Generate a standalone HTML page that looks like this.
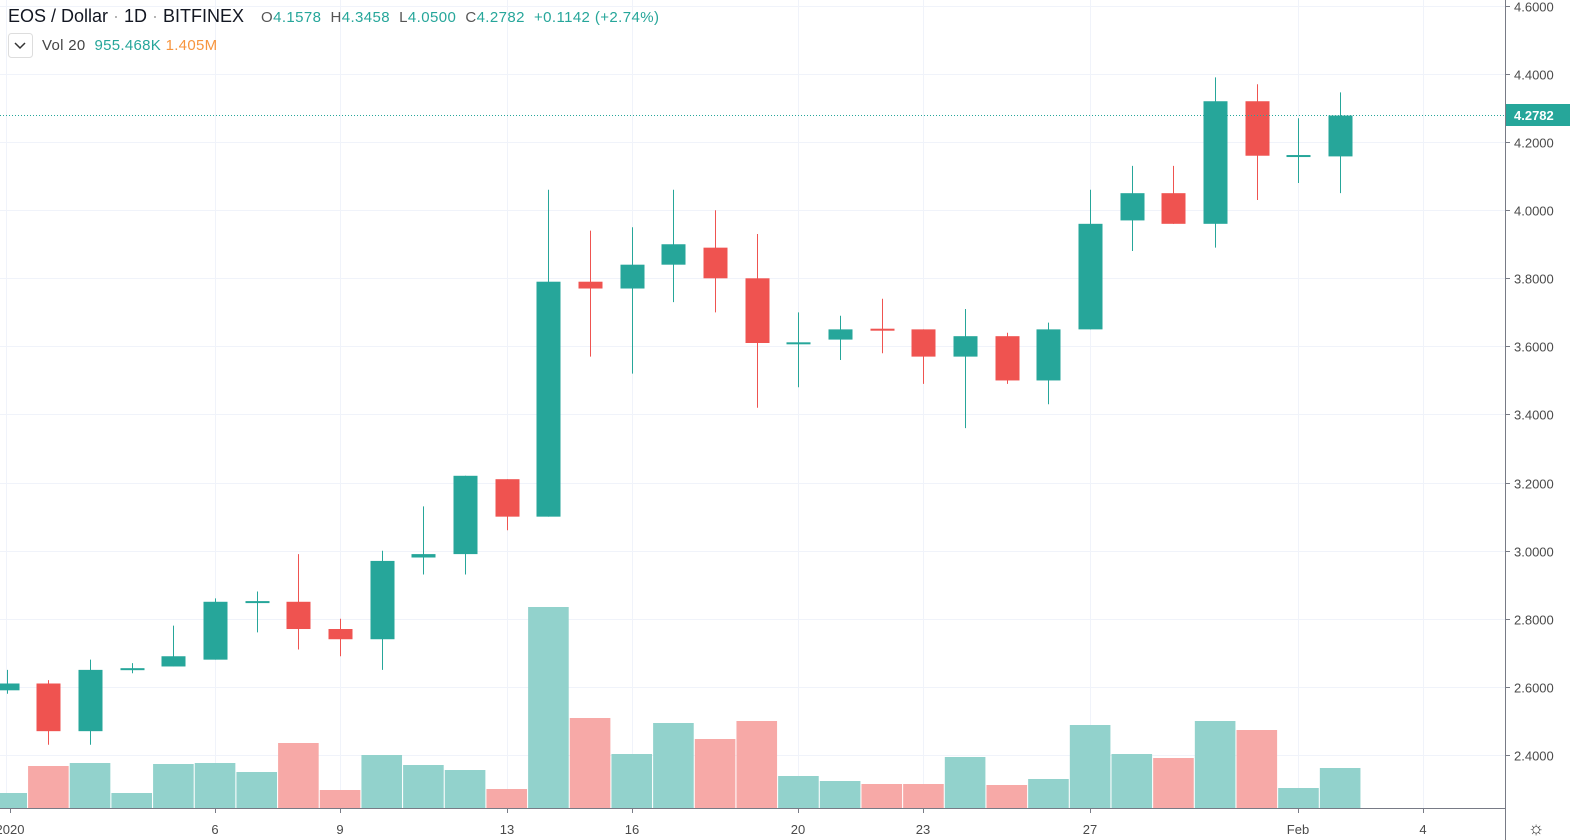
<!DOCTYPE html>
<html><head><meta charset="utf-8"><style>
html,body{margin:0;padding:0;background:#fff;}
svg{display:block;font-family:"Liberation Sans",sans-serif;}
</style></head><body>
<svg id="c" width="1570" height="840" xmlns="http://www.w3.org/2000/svg"></svg>
<script>
const S=document.getElementById('c');let h='';
const Y=p=>755-(p-2.4)*340.5;
const X=i=>6.7+i*41.67;
const G='#26a69a',R='#ef5350',GV='#92d2cc',RV='#f7a9a7';
for(let p=2.4;p<=4.61;p+=0.2){const y=Math.round(Y(p))+0.5;h+=`<line x1="0" x2="1505" y1="${y}" y2="${y}" stroke="#f0f3fa" stroke-width="1"/>`;}
const vx=[6,215,340,507,632,798,923,1090,1298,1423];
vx.forEach(x=>h+=`<line x1="${x+0.5}" x2="${x+0.5}" y1="0" y2="808" stroke="#f0f3fa"/>`);
const D=[[2.59,2.61,2.65,2.58],[2.61,2.47,2.62,2.43],[2.47,2.65,2.68,2.43],[2.65,2.655,2.67,2.64],[2.66,2.69,2.78,2.66],[2.68,2.85,2.86,2.68],[2.85,2.852,2.88,2.76],[2.85,2.77,2.99,2.71],[2.77,2.74,2.80,2.69],[2.74,2.97,3.00,2.65],[2.98,2.99,3.13,2.93],[2.99,3.22,3.22,2.93],[3.21,3.10,3.21,3.06],[3.10,3.79,4.06,3.10],[3.79,3.77,3.94,3.57],[3.77,3.84,3.95,3.52],[3.84,3.90,4.06,3.73],[3.89,3.80,4.00,3.70],[3.80,3.61,3.93,3.42],[3.61,3.612,3.70,3.48],[3.62,3.65,3.69,3.56],[3.652,3.65,3.74,3.58],[3.65,3.57,3.65,3.49],[3.57,3.63,3.71,3.36],[3.63,3.50,3.64,3.49],[3.50,3.65,3.67,3.43],[3.65,3.96,4.06,3.65],[3.97,4.05,4.13,3.88],[4.05,3.96,4.13,3.96],[3.96,4.32,4.39,3.89],[4.32,4.16,4.37,4.03],[4.16,4.162,4.27,4.08],[4.158,4.278,4.346,4.05]];
const V=[793,766,763,793,764,763,772,743,790,755,765,770,789,607,718,754,723,739,721,776,781,784,784,757,785,779,725,754,758,721,730,788,768];
V.forEach((t,i)=>{const up=D[i][1]>=D[i][0];const x=X(i);h+=`<rect x="${x-20.3}" y="${t}" width="40.6" height="${808-t}" fill="${up?GV:RV}"/>`;});
D.forEach((d,i)=>{const [o,c,hi,lo]=d;const up=c>=o;const col=up?G:R;const x=Math.round(X(i));
h+=`<line x1="${x+0.5}" x2="${x+0.5}" y1="${Y(hi)}" y2="${Y(lo)}" stroke="${col}"/>`;
const t=Y(Math.max(o,c)),b=Y(Math.min(o,c));h+=`<rect x="${x-11.5}" y="${t}" width="24" height="${Math.max(b-t,2)}" fill="${col}"/>`;});
h+=`<line x1="0" x2="1505" y1="115.5" y2="115.5" stroke="${G}" stroke-dasharray="1,2"/>`;
h+=`<rect x="1505" y="0" width="65" height="840" fill="#fff"/><rect x="0" y="808" width="1505" height="32" fill="#fff"/>`;
h+=`<line x1="1505.5" x2="1505.5" y1="0" y2="840" stroke="#787b86"/><line x1="0" x2="1505" y1="808.5" y2="808.5" stroke="#787b86"/>`;
for(let p=2.4;p<=4.61;p+=0.2){const y=Math.round(Y(p))+0.5;h+=`<line x1="1506" x2="1510" y1="${y}" y2="${y}" stroke="#787b86"/><text x="1514" y="${y+5}" font-size="13" fill="#4a4a4a">${p.toFixed(4)}</text>`;}
h+=`<rect x="1506" y="104" width="64" height="22" fill="${G}"/><text x="1514" y="120" font-size="13" font-weight="bold" fill="#fff">4.2782</text>`;
const L=[[10,'2020'],[215,'6'],[340,'9'],[507,'13'],[632,'16'],[798,'20'],[923,'23'],[1090,'27'],[1298,'Feb'],[1423,'4']];
L.forEach(([x,t])=>{h+=`<line x1="${x+0.5}" x2="${x+0.5}" y1="809" y2="813" stroke="#787b86"/><text x="${x}" y="834" font-size="13" fill="#4a4a4a" text-anchor="middle">${t}</text>`;});
h+=`<text x="1536" y="834" font-size="18" fill="#333" text-anchor="middle">☼</text>`;
h+=`<text x="8" y="22" font-size="18" fill="#131722">EOS / Dollar <tspan fill="#aaa">·</tspan> 1D <tspan fill="#aaa">·</tspan> BITFINEX</text>`;
h+=`<text x="261" y="22" font-size="15" letter-spacing="0.4" fill="#26a69a" xml:space="preserve"><tspan fill="#555">O</tspan>4.1578  <tspan fill="#555">H</tspan>4.3458  <tspan fill="#555">L</tspan>4.0500  <tspan fill="#555">C</tspan>4.2782  +0.1142 (+2.74%)</text>`;
h+=`<rect x="8.5" y="33.5" width="24" height="24" rx="3" fill="#fff" stroke="#ddd"/><path d="M15 43 l5 5 l5 -5" stroke="#333" stroke-width="1.5" fill="none"/>`;
h+=`<text x="42" y="50" font-size="15" letter-spacing="0.3" fill="#444" xml:space="preserve">Vol 20  <tspan fill="#26a69a">955.468K</tspan> <tspan fill="#f7953e">1.405M</tspan></text>`;
S.innerHTML=h;
</script>
</body></html>
